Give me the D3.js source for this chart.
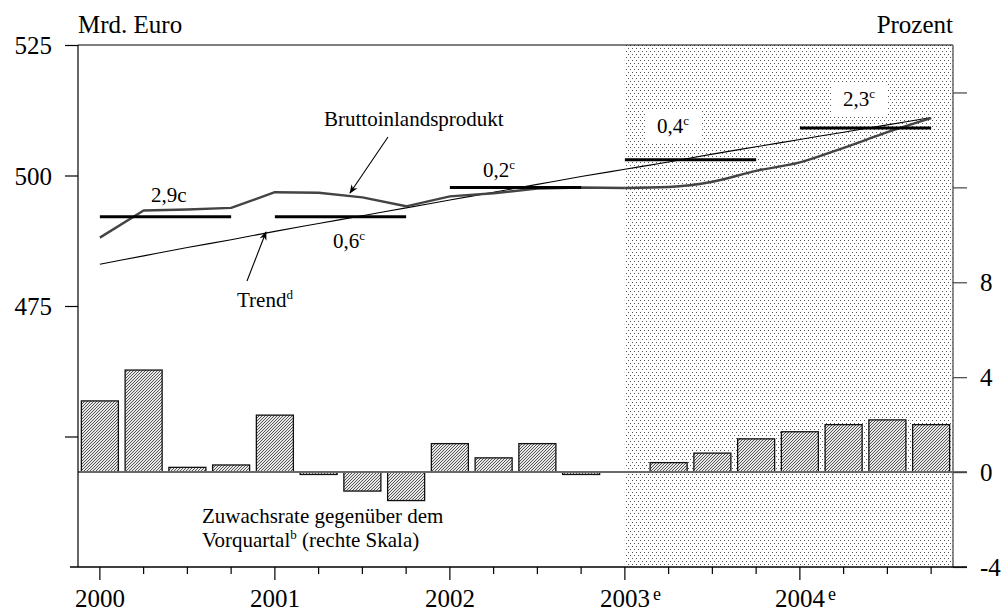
<!DOCTYPE html>
<html>
<head>
<meta charset="utf-8">
<script src="https://cdn.jsdelivr.net/npm/d3@7"></script>
<style>
  body { margin: 0; background: #fff; }
  svg { display: block; }
  svg text { font-family: 'Times New Roman', 'Liberation Serif', 'DejaVu Serif', serif !important; fill: #000; }
</style>
</head>
<body>
<svg id="chart" width="1001" height="613"></svg>
<script>
// --- data ---
const years = ['2000', '2001', '2002', '2003', '2004'];
const forecastYears = ['2003', '2004'];
const quarters = years.flatMap(y => ['Q1', 'Q2', 'Q3', 'Q4'].map(q => y + q));

// GDP, bn euro (left scale)
const gdp = [488.1, 493.3, 493.5, 493.8, 496.8, 496.7, 495.8, 494.1, 496.0, 496.6,
  497.5, 497.7, 497.6, 497.8, 498.8, 500.9, 502.5, 505.3, 508.3, 511.0];
// trend, bn euro (left scale)
const trend = [483.0, 484.6, 486.2, 487.7, 489.3, 490.8, 492.3, 493.8, 495.3, 496.8,
  498.3, 499.8, 501.2, 502.6, 504.1, 505.5, 506.9, 508.3, 509.7, 511.1];
// growth on previous quarter, percent (right scale)
const growth = [3.0, 4.3, 0.2, 0.3, 2.4, -0.1, -0.8, -1.2, 1.2, 0.6,
  1.2, -0.1, 0.0, 0.4, 0.8, 1.4, 1.7, 2.0, 2.2, 2.0];
// annual level lines and annual growth labels
const yearLevel = [492.1, 492.1, 497.7, 503.0, 509.1];
const yearGrowth = ['2,9', '0,6', '0,2', '0,4', '2,3'];

const leftTicks = [450, 475, 500, 525];
const leftLabels = [475, 500, 525];
const rightTicks = [-4, 0, 4, 8, 12, 16];
const rightLabels = [-4, 0, 4, 8];

const FONT = "'Times New Roman', 'Liberation Serif', 'DejaVu Serif', serif";
const svg = d3.select('#chart').attr('font-family', FONT);
const pLeft = 78, pRight = 953, pTop = 45, pBottom = 567;

const x = d3.scaleBand().domain(quarters).range([pLeft, pRight])
  .paddingInner(0.154).paddingOuter(0.077);
const xc = q => x(q) + x.bandwidth() / 2;
const yL = d3.scaleLinear().domain([425, 525]).range([pBottom, pTop]);
const yR = d3.scaleLinear().domain([-4, 18]).range([pBottom, pTop]);

// patterns
const defs = svg.append('defs');
const dots = defs.append('pattern').attr('id', 'dots')
  .attr('patternUnits', 'userSpaceOnUse').attr('width', 4).attr('height', 6);
dots.append('rect').attr('width', 4).attr('height', 6).attr('fill', '#fff');
dots.append('rect').attr('x', 0).attr('y', 0).attr('width', 1).attr('height', 1).attr('fill', '#555');
dots.append('rect').attr('x', 2).attr('y', 3).attr('width', 1).attr('height', 1).attr('fill', '#555');

const hatch = defs.append('pattern').attr('id', 'hatch')
  .attr('patternUnits', 'userSpaceOnUse').attr('width', 3).attr('height', 3);
hatch.append('rect').attr('width', 3).attr('height', 3).attr('fill', '#e8e8e8');
hatch.append('path').attr('d', 'M-1,1 L1,-1 M0,3 L3,0 M2,4 L4,2')
  .attr('stroke', '#555').attr('stroke-width', 1);

const marker = defs.append('marker').attr('id', 'arrow')
  .attr('viewBox', '0 0 10 10').attr('refX', 9).attr('refY', 5)
  .attr('markerWidth', 9).attr('markerHeight', 9).attr('orient', 'auto')
  .attr('markerUnits', 'userSpaceOnUse');
marker.append('path').attr('d', 'M0,1 L10,5 L0,9 L3,5 Z').attr('fill', '#000');

// forecast shading
svg.append('rect')
  .attr('x', xc('2003Q1')).attr('y', pTop)
  .attr('width', pRight - xc('2003Q1')).attr('height', pBottom - pTop)
  .attr('fill', 'url(#dots)');

// growth bars
svg.append('g').selectAll('rect')
  .data(quarters.map((q, i) => ({ q, v: growth[i] })).filter(d => d.v !== 0))
  .join('rect')
  .attr('x', d => x(d.q))
  .attr('width', x.bandwidth())
  .attr('y', d => yR(Math.max(0, d.v)))
  .attr('height', d => Math.abs(yR(d.v) - yR(0)))
  .attr('fill', 'url(#hatch)')
  .attr('stroke', '#111')
  .attr('stroke-width', 1.3);

// zero line
svg.append('line')
  .attr('x1', pLeft).attr('x2', pRight + 14)
  .attr('y1', yR(0)).attr('y2', yR(0))
  .attr('stroke', '#6a6a6a').attr('stroke-width', 2);

// trend
svg.append('path')
  .datum(trend)
  .attr('d', d3.line().x((d, i) => xc(quarters[i])).y(d => yL(d)).curve(d3.curveMonotoneX))
  .attr('fill', 'none').attr('stroke', '#000').attr('stroke-width', 1.1);

// GDP: straight segments for the past, smooth for the forecast
const split = quarters.indexOf('2003Q1');
svg.append('path')
  .datum(gdp.slice(0, split + 1))
  .attr('d', d3.line().x((d, i) => xc(quarters[i])).y(d => yL(d)))
  .attr('fill', 'none').attr('stroke', '#444').attr('stroke-width', 2.4)
  .attr('stroke-linejoin', 'round');
svg.append('path')
  .datum(gdp.slice(split))
  .attr('d', d3.line().x((d, i) => xc(quarters[i + split])).y(d => yL(d)).curve(d3.curveMonotoneX))
  .attr('fill', 'none').attr('stroke', '#444').attr('stroke-width', 2.4);

// annual level lines
svg.append('g').selectAll('line')
  .data(years)
  .join('line')
  .attr('x1', y => xc(y + 'Q1')).attr('x2', y => xc(y + 'Q4'))
  .attr('y1', (y, i) => yL(yearLevel[i])).attr('y2', (y, i) => yL(yearLevel[i]))
  .attr('stroke', '#000').attr('stroke-width', 3);

// labels with superscripts
function label(px, py, main, sup, bg) {
  const g = svg.append('g');
  const t = g.append('text').attr('x', px).attr('y', py).style('font-size', '21px');
  t.append('tspan').text(main);
  if (sup) t.append('tspan').text(sup).attr('dy', -8).style('font-size', '13px');
  if (bg) {
    const b = t.node().getBBox();
    g.insert('rect', 'text')
      .attr('x', b.x - 12).attr('y', b.y - 2)
      .attr('width', b.width + 24).attr('height', b.height + 6)
      .attr('fill', '#fff');
  }
  return t;
}

svg.append('text').attr('x', 151).attr('y', 202).style('font-size', '21px').text(yearGrowth[0] + 'c');
label(333, 248, yearGrowth[1], 'c');
label(483, 177, yearGrowth[2], 'c');
label(657, 133, yearGrowth[3], 'c', true);
label(843, 106, yearGrowth[4], 'c', true);

svg.append('text').attr('x', 324).attr('y', 126).style('font-size', '21px').text('Bruttoinlandsprodukt');
label(237, 307, 'Trend', 'd');
svg.append('text').attr('x', 202).attr('y', 523).style('font-size', '21px').text('Zuwachsrate gegenüber dem');
label(202, 547, 'Vorquartal', 'b').append('tspan').attr('dy', 8).style('font-size', '21px').text(' (rechte Skala)');

// arrows
svg.append('line').attr('x1', 388).attr('y1', 137).attr('x2', 350).attr('y2', 193)
  .attr('stroke', '#000').attr('stroke-width', 1.1).attr('marker-end', 'url(#arrow)');
svg.append('line').attr('x1', 247).attr('y1', 281).attr('x2', 266).attr('y2', 232)
  .attr('stroke', '#000').attr('stroke-width', 1.1).attr('marker-end', 'url(#arrow)');

// frame top
svg.append('line').attr('x1', pLeft).attr('x2', pRight).attr('y1', pTop).attr('y2', pTop)
  .attr('stroke', '#000').attr('stroke-width', 1.2);

// left axis
const gl = svg.append('g').attr('transform', `translate(${pLeft},0)`)
  .call(d3.axisLeft(yL).tickValues(leftTicks).tickSize(13).tickSizeOuter(0)
    .tickFormat(d => leftLabels.includes(d) ? String(d) : ''));
gl.attr('font-family', FONT);
gl.select('.domain').attr('d', `M0,${pTop}V${pBottom}`).attr('stroke-width', 1.2);
gl.selectAll('.tick line').attr('stroke-width', 1.2);
gl.selectAll('text').style('font-size', '25px').attr('x', -26).attr('dy', '0.34em');

// right axis
const gr = svg.append('g').attr('transform', `translate(${pRight},0)`)
  .call(d3.axisRight(yR).tickValues(rightTicks).tickSize(14).tickSizeOuter(0)
    .tickFormat(d => rightLabels.includes(d) ? String(d) : ''));
gr.attr('font-family', FONT);
gr.select('.domain').attr('d', `M0,${pTop}V${pBottom}`).attr('stroke', '#666').attr('stroke-width', 1.5);
gr.selectAll('.tick line').attr('stroke', '#444').attr('stroke-width', 1.2);
gr.selectAll('text').style('font-size', '25px').attr('x', 27).attr('dy', '0.34em');

// bottom axis: minor and major ticks
const gb = svg.append('g').attr('transform', `translate(0,${pBottom})`);
gb.append('g')
  .call(d3.axisBottom(x).tickValues(quarters.filter(q => !q.endsWith('Q1'))).tickSize(7).tickSizeOuter(0).tickFormat(''))
  .call(g => g.select('.domain').remove());
const major = gb.append('g')
  .call(d3.axisBottom(x).tickValues(quarters.filter(q => q.endsWith('Q1'))).tickSize(13).tickSizeOuter(0)
    .tickFormat(q => q.slice(0, 4)))
  .call(g => g.select('.domain').remove());
major.attr('font-family', FONT);
major.selectAll('text').style('font-size', '25px').attr('y', 40).attr('dy', 0);
gb.selectAll('.tick line').attr('stroke-width', 1.2);
gb.append('line').attr('x1', 70).attr('x2', pRight + 14).attr('y1', 0).attr('y2', 0)
  .attr('stroke', '#000').attr('stroke-width', 1.4);
forecastYears.forEach(y => {
  svg.append('text').attr('x', xc(y + 'Q1') + 28).attr('y', 600)
    .style('font-size', '18px').text('e');
});

// unit titles
svg.append('text').attr('x', pLeft).attr('y', 33).style('font-size', '25px').text('Mrd. Euro');
svg.append('text').attr('x', pRight).attr('y', 33).attr('text-anchor', 'end')
  .style('font-size', '25px').text('Prozent');
</script>
</body>
</html>
